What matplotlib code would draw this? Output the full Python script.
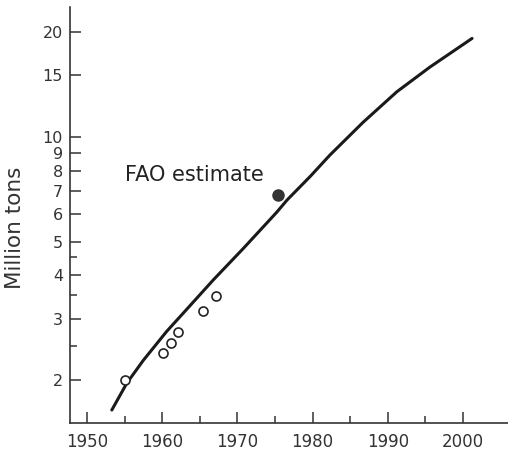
import matplotlib.pyplot as plt
from matplotlib.ticker import FixedLocator, NullFormatter

# trend curve
curve_years = [1953.3, 1955.3, 1957.5, 1960.6, 1963.3, 1966.8, 1970.8, 1975.2,
               1976.6, 1979.7, 1982.3, 1986.7, 1991.2, 1995.6, 2001.2]
curve_vals = [1.64, 1.96, 2.28, 2.76, 3.20, 3.88, 4.78, 6.06,
              6.58, 7.7, 8.86, 11.0, 13.47, 15.86, 19.17]

# observed catches (open circles)
obs_years = [1955.05, 1960.15, 1961.13, 1962.14, 1965.47, 1967.15]
obs_vals = [2.0, 2.39, 2.56, 2.75, 3.16, 3.49]

# FAO estimate (filled)
fao_year = [1975.44]
fao_val = [6.8]

y_major = [2, 3, 4, 5, 6, 7, 8, 9, 10, 15, 20]
y_minor = [2.5, 3.5, 4.5]
x_major = [1950, 1960, 1970, 1980, 1990, 2000]
x_minor = [1955, 1965, 1975, 1985, 1995]

plt.rcParams['font.family'] = ['DejaVu Sans']
fig = plt.figure(figsize=(5.08, 4.59), dpi=100)
ax = fig.add_axes([70/508, 36/459, 438/508, 416/459])

ax.plot(curve_years, curve_vals, color='#1a1a1a', lw=2.2,
        solid_capstyle='round', solid_joinstyle='round')
ax.plot(obs_years, obs_vals, 'o', ms=6.5, mfc='white', mec='#222222', mew=1.2)
ax.plot(fao_year, fao_val, 'o', ms=8, color='#333333')
ax.text(1955.0, 7.77, 'FAO estimate', fontsize=15, color='#222222', va='center')

ax.set_yscale('log')
ax.set_xlim(1947.74, 2005.98)
ax.set_ylim(1.505, 23.6)
ax.yaxis.set_major_locator(FixedLocator(y_major))
ax.yaxis.set_minor_locator(FixedLocator(y_minor))
ax.set_yticklabels([str(v) for v in y_major])
ax.yaxis.set_minor_formatter(NullFormatter())
ax.set_xticks(x_major)
ax.set_xticks(x_minor, minor=True)

for s in ['top', 'right']:
    ax.spines[s].set_visible(False)
for s in ['left', 'bottom']:
    ax.spines[s].set_linewidth(1.2)
    ax.spines[s].set_color('#333333')

ax.tick_params(which='major', direction='in', length=8, width=1.1, colors='#333333',
               labelsize=11.5, labelcolor='#333333')
ax.tick_params(which='minor', direction='in', length=5, width=1.1, colors='#333333')
ax.tick_params(axis='x', labelsize=12, pad=7)
ax.tick_params(axis='y', pad=5)
ax.set_ylabel('Million tons', fontsize=15.5, color='#333333')
ax.yaxis.set_label_coords(-0.103, 0.469)

fig.savefig('out.png', dpi=100)
